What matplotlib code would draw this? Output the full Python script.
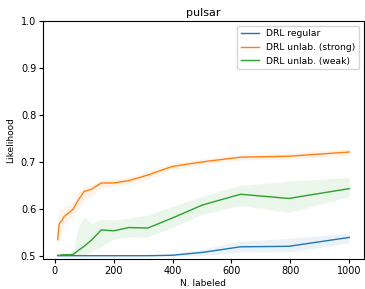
import numpy as np
import matplotlib
matplotlib.use("Agg")
import matplotlib.pyplot as plt

n_labeled = [10, 12.6, 15.8, 20, 25.1, 31.6, 39.8, 50.1, 63.1, 79.4, 100, 126, 158, 200, 251, 316, 398, 501, 631, 794, 1000]

regular = [0.500, 0.500, 0.500, 0.500, 0.500, 0.500, 0.500, 0.500, 0.500, 0.500, 0.500, 0.500, 0.500, 0.500, 0.500, 0.500, 0.501, 0.507, 0.519, 0.520, 0.539]
regular_lo = [0.500, 0.500, 0.500, 0.500, 0.500, 0.500, 0.500, 0.500, 0.500, 0.500, 0.500, 0.500, 0.500, 0.500, 0.500, 0.500, 0.499, 0.500, 0.508, 0.508, 0.527]
regular_hi = [0.500, 0.500, 0.500, 0.500, 0.500, 0.500, 0.500, 0.500, 0.500, 0.500, 0.500, 0.500, 0.500, 0.500, 0.500, 0.500, 0.503, 0.514, 0.531, 0.537, 0.548]

strong = [0.534, 0.552, 0.568, 0.572, 0.575, 0.583, 0.588, 0.592, 0.600, 0.618, 0.637, 0.642, 0.655, 0.655, 0.660, 0.672, 0.690, 0.700, 0.710, 0.712, 0.721]
strong_lo = [0.515, 0.525, 0.535, 0.545, 0.555, 0.565, 0.572, 0.578, 0.585, 0.600, 0.618, 0.628, 0.645, 0.647, 0.652, 0.664, 0.684, 0.694, 0.704, 0.706, 0.714]
strong_hi = [0.560, 0.590, 0.600, 0.600, 0.598, 0.603, 0.606, 0.608, 0.618, 0.635, 0.648, 0.652, 0.662, 0.663, 0.668, 0.680, 0.697, 0.706, 0.716, 0.719, 0.728]

weak = [0.501, 0.501, 0.501, 0.501, 0.502, 0.502, 0.502, 0.502, 0.503, 0.511, 0.520, 0.534, 0.555, 0.553, 0.560, 0.559, 0.580, 0.608, 0.631, 0.622, 0.643]
weak_lo = [0.500, 0.500, 0.500, 0.500, 0.500, 0.500, 0.500, 0.500, 0.500, 0.500, 0.500, 0.510, 0.520, 0.535, 0.540, 0.540, 0.560, 0.588, 0.607, 0.592, 0.626]
weak_hi = [0.502, 0.502, 0.502, 0.503, 0.504, 0.504, 0.505, 0.505, 0.510, 0.560, 0.584, 0.568, 0.578, 0.576, 0.580, 0.587, 0.605, 0.627, 0.650, 0.659, 0.667]

labels = ["DRL regular", "DRL unlab. (strong)", "DRL unlab. (weak)"]
colors = ["#1f77b4", "#ff7f0e", "#2ca02c"]

plt.rcParams['font.size'] = 7.5
fig = plt.figure(figsize=(3.65, 2.89), dpi=100)
ax = fig.add_axes([0.118, 0.103, 0.879, 0.824])

series = [(regular, regular_lo, regular_hi), (strong, strong_lo, strong_hi), (weak, weak_lo, weak_hi)]
for (m, lo, hi), lab, c in zip(series, labels, colors):
    ax.plot(n_labeled, m, color=c, lw=1.0, label=lab)
    ax.fill_between(n_labeled, lo, hi, color=c, alpha=0.09, lw=0)

ax.set_ylim(0.4925, 1.0)
ax.set_xticks([0, 200, 400, 600, 800, 1000])
ax.set_title("pulsar", fontsize=8, pad=4)
ax.set_xlabel("N. labeled", fontsize=6.5, labelpad=2)
ax.set_ylabel("Likelihood", fontsize=6.5)
ax.tick_params(labelsize=7, length=3, pad=2)
ax.legend(loc="upper right", fontsize=6.6, handlelength=2)
fig.savefig("out.png", dpi=100)
